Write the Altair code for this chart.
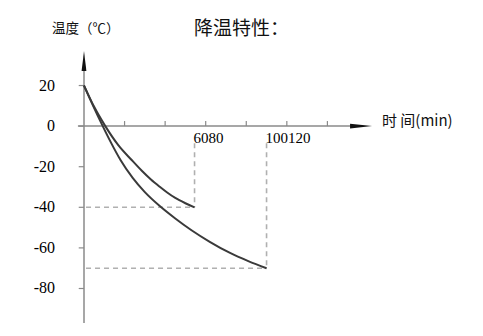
import altair as alt
import pandas as pd

# ---- data ----
curve1_t = [0, 5, 10.5, 17, 23.5, 28.5, 33, 37.5, 41, 45, 50, 54.5]
curve1_T = [20, 9.5, 0, -9.5, -16.7, -22, -26.3, -30, -32.7, -35.4, -38, -40]

curve2_t = [0, 4.5, 9, 13.5, 18, 24, 30, 37.5, 45, 53, 62, 72, 81, 90]
curve2_T = [20, 10, 0.5, -8.5, -16.7, -25.5, -32.5, -39.5, -45.5, -51.3, -57, -62.5, -66.5, -70]

y_ticks = [20, 0, -20, -40, -60, -80]
y_tick_labels = ["20", "0", "-20", "-40", "-60", "-80"]
x_ticks = [20, 40, 60, 80, 100, 120]

end_t = [54.5, 90]
end_T = [-40, -70]
end_labels = ["6080", "100120"]

title_text = "降温特性："
y_title = "温度（℃）"
x_title = "时 间(min)"

# ---- layout ----
LEFT, TOP = 84, 50
W, H = 286, 273
xs = alt.Scale(domain=[0, 141], nice=False, zero=False)
ys = alt.Scale(domain=[-97, 37.5], nice=False, zero=False)
AXIS_GRAY = "#8a8a8a"
CURVE = "#3a3a3a"
DASH = "#b0b0b0"

curves = pd.DataFrame(
    {"t": curve1_t + curve2_t,
     "T": curve1_T + curve2_T,
     "c": ["1"] * len(curve1_t) + ["2"] * len(curve2_t)}
)
ends = pd.DataFrame({"t": end_t, "T": end_T, "lab": end_labels})
yt = pd.DataFrame({"v": y_ticks, "lab": y_tick_labels, "x0": [0] * len(y_ticks), "x1": [-2.6] * len(y_ticks)})

X = lambda f: alt.X(f, scale=xs, axis=None)
Y = lambda f: alt.Y(f, scale=ys, axis=None)

# y axis line
y_axis = alt.Chart(pd.DataFrame({"x": [0], "y": [-97], "y2": [31]})).mark_rule(
    color=AXIS_GRAY, strokeWidth=1.5
).encode(x=X("x:Q"), y=Y("y:Q"), y2="y2:Q")

# y ticks and labels
y_tick_marks = alt.Chart(yt).mark_rule(color=AXIS_GRAY, strokeWidth=1.2).encode(
    x=X("x1:Q"), x2="x0:Q", y=Y("v:Q")
)
y_tick_text = alt.Chart(yt).mark_text(
    font="Liberation Serif", fontSize=16, align="right", baseline="middle", color="#000", dx=-29
).encode(x=X("x0:Q"), y=Y("v:Q"), text="lab:N")

# x axis line
x_axis = alt.Chart(pd.DataFrame({"x": [-3], "x2": [134], "y": [0]})).mark_rule(
    color=AXIS_GRAY, strokeWidth=1.5
).encode(x=X("x:Q"), x2="x2:Q", y=Y("y:Q"))

# x axis tick marks
x_tick_marks = alt.Chart(pd.DataFrame({"x": x_ticks, "y": [0] * len(x_ticks), "y2": [2.5] * len(x_ticks)})).mark_rule(
    color=AXIS_GRAY, strokeWidth=1.2
).encode(x=X("x:Q"), y=Y("y:Q"), y2="y2:Q")

# arrow heads
y_arrow = alt.Chart(pd.DataFrame({"x": [0], "y": [32.1]})).mark_point(
    shape="M0,-1L0.24,1L-0.24,1Z", filled=True, size=400, color="#111", opacity=1
).encode(x=X("x:Q"), y=Y("y:Q"))
x_arrow = alt.Chart(pd.DataFrame({"x": [136.6], "y": [0]})).mark_point(
    shape="M1,0L-1,-0.22L-1,0.22Z", filled=True, size=484, color="#111", opacity=1
).encode(x=X("x:Q"), y=Y("y:Q"))

# dashed guide lines
h_guides = alt.Chart(ends.assign(x0=1)).mark_rule(
    color=DASH, strokeWidth=1.6, strokeDash=[5, 4]
).encode(x=X("x0:Q"), x2="t:Q", y=Y("T:Q"))
v_guides = alt.Chart(ends.assign(top=-8.5)).mark_rule(
    color=DASH, strokeWidth=1.6, strokeDash=[5, 4]
).encode(x=X("t:Q"), y=Y("top:Q"), y2="T:Q")

# curves
lines = alt.Chart(curves).mark_line(
    color=CURVE, strokeWidth=2, interpolate="monotone"
).encode(x=X("t:Q"), y=Y("T:Q"), detail="c:N")

# labels at the guide lines
end_text = alt.Chart(ends.assign(ly=-5.9)).mark_text(
    font="Liberation Serif", fontSize=15, align="left", baseline="middle", color="#000", dx=-1
).encode(x=X("t:Q"), y=Y("ly:Q"), text="lab:N")


def label(txt, px, py, size, font="Noto Sans CJK SC"):
    return alt.Chart(pd.DataFrame({"s": [txt]})).mark_text(
        font=font, fontSize=size, align="left", baseline="middle", color="#111"
    ).encode(text="s:N", x=alt.value(px - LEFT), y=alt.value(py - TOP))


t_title = label(title_text, 194, 29, 19)
t_y = label(y_title, 52, 29, 13.5)
t_x = label(x_title, 382, 121, 15)

chart = alt.layer(
    h_guides, v_guides, y_axis, y_tick_marks, x_axis, x_tick_marks, lines, y_arrow, x_arrow,
    y_tick_text, end_text, t_title, t_y, t_x
).properties(
    width=W, height=H,
    background="white",
    padding={"left": LEFT, "top": TOP, "right": 483 - LEFT - W, "bottom": 336 - TOP - H},
    autosize=alt.AutoSizeParams(type="none"),
).configure_view(strokeWidth=0, strokeOpacity=0)

chart.save("out.html", embed_options={"renderer": "svg", "actions": False})
